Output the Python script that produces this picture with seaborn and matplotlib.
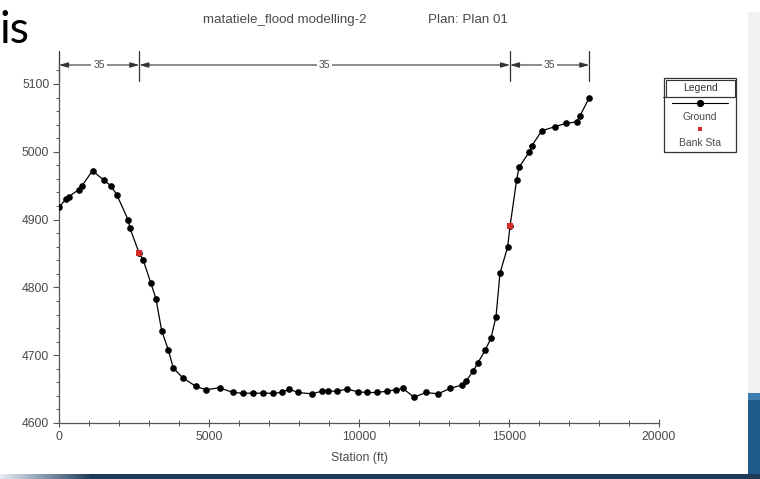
import numpy as np
import pandas as pd
import matplotlib
matplotlib.use("Agg")
import matplotlib.pyplot as plt
import matplotlib.transforms as mtransforms
from matplotlib.patches import Rectangle
from matplotlib.ticker import MultipleLocator
import seaborn as sns

# Cross-section ground survey (station in ft, elevation in ft)
station = [0, 223, 333, 650, 767, 1117, 1500, 1723, 1923, 2310, 2367, 2677,
           2810, 3057, 3233, 3423, 3643, 3810, 4143, 4567, 4900, 5350, 5800,
           6133, 6467, 6800, 7133, 7433, 7667, 7967, 8433, 8767, 8967, 9267,
           9600, 9967, 10267, 10600, 10933, 11233, 11467, 11833, 12233, 12633,
           13033, 13433, 13567, 13800, 13967, 14200, 14400, 14567, 14700,
           14957, 15033, 15257, 15333, 15680, 15750, 16090, 16533, 16900,
           17250, 17367, 17677]
elevation = [4918, 4930, 4934, 4944, 4950, 4972, 4958, 4950, 4937, 4899, 4887,
             4850, 4840, 4807, 4783, 4736, 4708, 4681, 4666, 4654, 4649, 4652,
             4645, 4644, 4644, 4644, 4644, 4645, 4650, 4645, 4643, 4647, 4647,
             4647, 4650, 4646, 4645, 4645, 4647, 4649, 4651, 4638, 4645, 4643,
             4651, 4656, 4662, 4676, 4689, 4707, 4725, 4757, 4821, 4860, 4890,
             4959, 4977, 5000, 5008, 5031, 5037, 5042, 5044, 5053, 5080]

# Bank stations
bank_station = [2677, 15033]
bank_elevation = [4850, 4890]

# Reach-length annotations between the bank stations
reach_edges = [0, 2677, 15033, 17677]
reach_labels = ["35", "35", "35"]

x_ticks = [0, 5000, 10000, 15000, 20000]
y_ticks = [4600, 4700, 4800, 4900, 5000, 5100]

sns.set_theme(style="white")
plt.rcParams["font.family"] = ["Liberation Sans", "DejaVu Sans"]

W, H = 760, 479
fig = plt.figure(figsize=(W / 100, H / 100), dpi=100)
fig.patch.set_facecolor("white")


def fx(px):
    return px / W


def fy(py):
    return 1 - py / H


TXT = "#4a4a4a"
AXC = "#555555"

ax = fig.add_axes([fx(59), fy(423), fx(659) - fx(59), fy(65) - fy(423)])
ax.set_facecolor("white")

df = pd.DataFrame({"Station (ft)": station, "Elevation (ft)": elevation})
sns.lineplot(data=df, x="Station (ft)", y="Elevation (ft)", sort=False, ax=ax,
             color="black", lw=0.9, marker="o", markersize=4.8,
             markeredgewidth=0, markerfacecolor="black", zorder=3)
sns.scatterplot(x=bank_station, y=bank_elevation, ax=ax, color="#d42a2a",
                marker="s", s=16, linewidth=0, zorder=5)

ax.set_xlim(0, 20000)
ax.set_ylim(4600, 5128)
ax.set_xticks(x_ticks)
ax.set_yticks(y_ticks)
ax.xaxis.set_minor_locator(MultipleLocator(1000))
ax.yaxis.set_minor_locator(MultipleLocator(20))
ax.tick_params(axis="x", which="major", direction="inout", length=6, width=0.8,
               color=AXC, labelsize=8.8, labelcolor=TXT, pad=3, bottom=True)
ax.tick_params(axis="x", which="minor", direction="inout", length=4, width=0.7,
               color=AXC, bottom=True)
ax.tick_params(axis="y", which="major", direction="out", length=4, width=0.8,
               color=AXC, labelsize=8.8, labelcolor=TXT, pad=3, left=True)
ax.tick_params(axis="y", which="minor", direction="out", length=2.5, width=0.7,
               color=AXC, left=True)
for side in ("top", "right"):
    ax.spines[side].set_visible(False)
for side in ("left", "bottom"):
    ax.spines[side].set_color(AXC)
    ax.spines[side].set_linewidth(0.9)
ax.set_ylabel("")
ax.set_xlabel("Station (ft)", fontsize=8.8, color=TXT, labelpad=6)

# Reach-length dimension line above the section
trans = mtransforms.blended_transform_factory(ax.transData, ax.transAxes)
for i, lab in enumerate(reach_labels):
    a, b = reach_edges[i], reach_edges[i + 1]
    ax.annotate("", xy=(a, 1.0), xytext=(b, 1.0), xycoords=trans,
                textcoords=trans, annotation_clip=False,
                arrowprops=dict(arrowstyle="<|-|>,head_length=0.45,head_width=0.13",
                                color="#333333", lw=0.8, shrinkA=0, shrinkB=0))
    ax.text((a + b) / 2, 1.0, lab, transform=trans, ha="center", va="center",
            fontsize=7.5, color=TXT, clip_on=False,
            bbox=dict(facecolor="white", edgecolor="none", pad=1.5))
for e in reach_edges:
    ax.plot([e, e], [0.955, 1.04], transform=trans, clip_on=False,
            color="#333333", lw=0.9)

# Title
fig.text(fx(285), fy(20), "matatiele_flood modelling-2", ha="center",
         va="center", fontsize=9.6, color=TXT)
fig.text(fx(468), fy(20), "Plan: Plan 01", ha="center", va="center",
         fontsize=9.6, color=TXT)

# Legend box
lx0, lx1, ly0, ly1 = 663, 737, 77, 153
lax = fig.add_axes([fx(lx0), fy(ly1), fx(lx1) - fx(lx0), fy(ly0) - fy(ly1)])
lax.set_xlim(lx0, lx1)
lax.set_ylim(ly1, ly0)
lax.axis("off")
lax.add_patch(Rectangle((lx0 + 0.6, ly0 + 0.6), lx1 - lx0 - 1.2, ly1 - ly0 - 1.2,
                        fill=False, edgecolor="#333333", lw=0.9, clip_on=False))
lax.add_patch(Rectangle((lx0 + 2.5, ly0 + 2.5), lx1 - lx0 - 5, 17,
                        fill=False, edgecolor="#333333", lw=0.8, clip_on=False))
lax.plot([lx0, lx1], [97, 97], color="#333333", lw=0.8)
lax.text(700, 88, "Legend", ha="center", va="center", fontsize=7.5, color="#333333")
lax.plot([672, 728], [103, 103], color="black", lw=0.8)
lax.plot([700], [103], marker="o", color="black", markersize=4.2)
lax.text(700, 117, "Ground", ha="center", va="center", fontsize=7.5, color=TXT)
lax.plot([700], [129], marker="s", color="#d42a2a", markersize=2.6, mew=0)
lax.text(700, 143, "Bank Sta", ha="center", va="center", fontsize=7.5, color=TXT)

# Slide surroundings
fig.text(0.0, fy(43), "is", ha="left", va="baseline", fontsize=32,
         family=["Lato", "DejaVu Sans"], color="black")
fig.patches.append(Rectangle((fx(748), fy(474)), 1 - fx(748), fy(12) - fy(474),
                             transform=fig.transFigure, facecolor="#f1f1f1",
                             edgecolor="none", zorder=0))
fig.patches.append(Rectangle((fx(748), fy(474)), 1 - fx(748), fy(393) - fy(474),
                             transform=fig.transFigure, facecolor="#1f5b8b",
                             edgecolor="none", zorder=1))
fig.patches.append(Rectangle((fx(748), fy(400)), 1 - fx(748), fy(393) - fy(400),
                             transform=fig.transFigure, facecolor="#3d7cad",
                             edgecolor="none", zorder=1))

bar = fig.add_axes([0, 0, 1, fy(474)])
bar.axis("off")
xs = np.linspace(0, 1, 760)
light = np.array([0.90, 0.93, 0.96])
dark = np.array([0.12, 0.23, 0.35])
t = np.clip(xs / 0.12, 0, 1)[:, None]
grad = light * (1 - t) + dark * t
bar.imshow(grad[None, :, :], aspect="auto", extent=[0, 1, 0, 1])
bar.set_xlim(0, 1)
bar.set_ylim(0, 1)

fig.savefig("out.png", dpi=100, facecolor="white")
